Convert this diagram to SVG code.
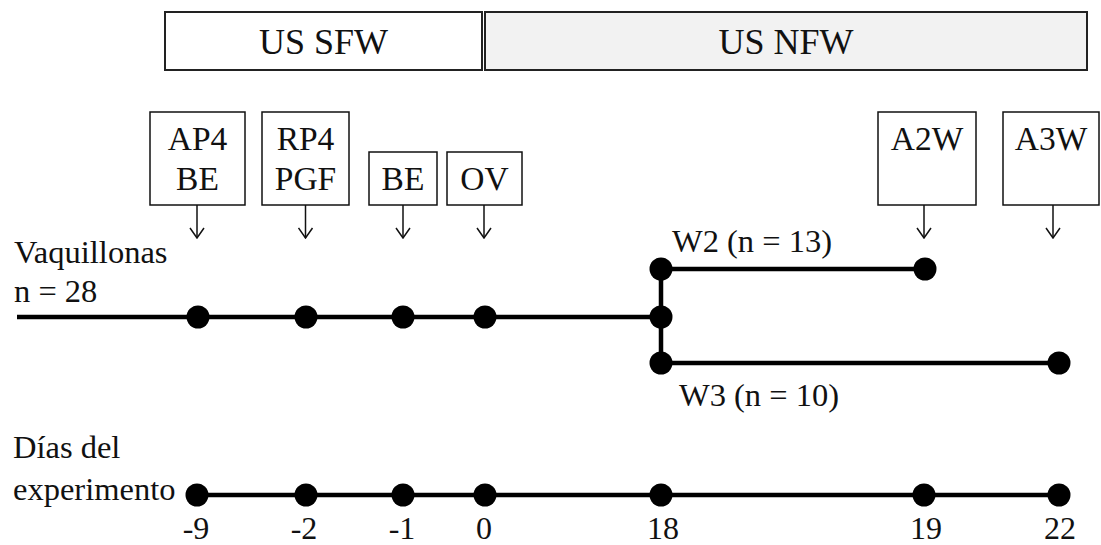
<svg xmlns="http://www.w3.org/2000/svg" width="1101" height="545" viewBox="0 0 1101 545">
<style>
text{font-family:"Liberation Serif","Times New Roman",serif;fill:#111}
.t{font-size:32.5px}
.b{font-size:33.5px;text-anchor:middle}
.h{font-size:36px;text-anchor:middle}
.box{fill:#fff;stroke:#111;stroke-width:1.5}
.bar{stroke:#222;stroke-width:2}
.ar{fill:none;stroke:#111;stroke-width:1.5}
.ln{fill:none;stroke:#000;stroke-width:4.5}
.dot{fill:#000}
.n{font-size:32px;text-anchor:middle}
</style>
<defs>
<marker id="ah" viewBox="0 0 16 12" refX="8" refY="11" markerWidth="16" markerHeight="12" markerUnits="userSpaceOnUse" orient="0">
<path d="M1,1 L8,11 L15,1" fill="none" stroke="#111" stroke-width="1.5"/>
</marker>
</defs>
<g id="phase-sfw"><rect class="bar" x="165" y="12" width="317" height="58" fill="#fff"/><text class="h" x="323.5" y="54">US SFW</text></g>
<g id="phase-nfw"><rect class="bar" x="485" y="12" width="602" height="58" fill="#f2f2f2"/><text class="h" x="786" y="54">US NFW</text></g>
<g id="ev-ap4"><rect class="box" x="150" y="112" width="95" height="93"/><text class="b" x="197.5" y="150">AP4</text><text class="b" x="197.5" y="190">BE</text></g>
<g id="ev-rp4"><rect class="box" x="262" y="112" width="87" height="93"/><text class="b" x="305.5" y="150">RP4</text><text class="b" x="305.5" y="190">PGF</text></g>
<g id="ev-be"><rect class="box" x="369" y="152" width="68" height="53"/><text class="b" x="403" y="190">BE</text></g>
<g id="ev-ov"><rect class="box" x="447" y="152" width="75" height="53"/><text class="b" x="484.5" y="190">OV</text></g>
<g id="ev-a2w"><rect class="box" x="878" y="112" width="98" height="93"/><text class="b" x="927" y="150">A2W</text></g>
<g id="ev-a3w"><rect class="box" x="1003" y="112" width="96" height="93"/><text class="b" x="1051" y="150">A3W</text></g>
<g id="labels">
<text class="t" x="14" y="263">Vaquillonas</text>
<text class="t" x="14" y="302">n = 28</text>
<text class="t" x="672" y="252">W2 (n = 13)</text>
<text class="t" x="679" y="406">W3 (n = 10)</text>
<text class="t" x="13" y="458">Días del</text>
<text class="t" x="13" y="500">experimento</text>
<text class="n" x="196" y="539">-9</text>
<text class="n" x="304" y="539">-2</text>
<text class="n" x="402" y="539">-1</text>
<text class="n" x="484" y="539">0</text>
<text class="n" x="663" y="539">18</text>
<text class="n" x="926" y="539">19</text>
<text class="n" x="1060" y="539">22</text>
</g>
<g id="connectors">
<line class="ar" x1="197" y1="205" x2="197" y2="238" marker-end="url(#ah)"/>
<line class="ar" x1="305.5" y1="205" x2="305.5" y2="238" marker-end="url(#ah)"/>
<line class="ar" x1="403" y1="205" x2="403" y2="238" marker-end="url(#ah)"/>
<line class="ar" x1="484" y1="205" x2="484" y2="238" marker-end="url(#ah)"/>
<line class="ar" x1="924" y1="205" x2="924" y2="238" marker-end="url(#ah)"/>
<line class="ar" x1="1053" y1="205" x2="1053" y2="238" marker-end="url(#ah)"/>
<path class="ln" d="M17,317 H661 M661,269 V363 M661,269 H925 M661,363 H1059 M197,495 H1059"/>
</g>
<g id="dots">
<circle class="dot" cx="198" cy="317" r="11.5"/>
<circle class="dot" cx="306" cy="317" r="11.5"/>
<circle class="dot" cx="403" cy="317" r="11.5"/>
<circle class="dot" cx="485" cy="317" r="11.5"/>
<circle class="dot" cx="661" cy="317" r="11.5"/>
<circle class="dot" cx="661" cy="269" r="11.5"/>
<circle class="dot" cx="925" cy="269" r="11.5"/>
<circle class="dot" cx="661" cy="363" r="11.5"/>
<circle class="dot" cx="1059" cy="363" r="11.5"/>
<circle class="dot" cx="197" cy="495" r="11.5"/>
<circle class="dot" cx="306" cy="495" r="11.5"/>
<circle class="dot" cx="403" cy="495" r="11.5"/>
<circle class="dot" cx="485" cy="495" r="11.5"/>
<circle class="dot" cx="661" cy="495" r="11.5"/>
<circle class="dot" cx="924" cy="495" r="11.5"/>
<circle class="dot" cx="1059" cy="495" r="11.5"/>
</g>
</svg>
